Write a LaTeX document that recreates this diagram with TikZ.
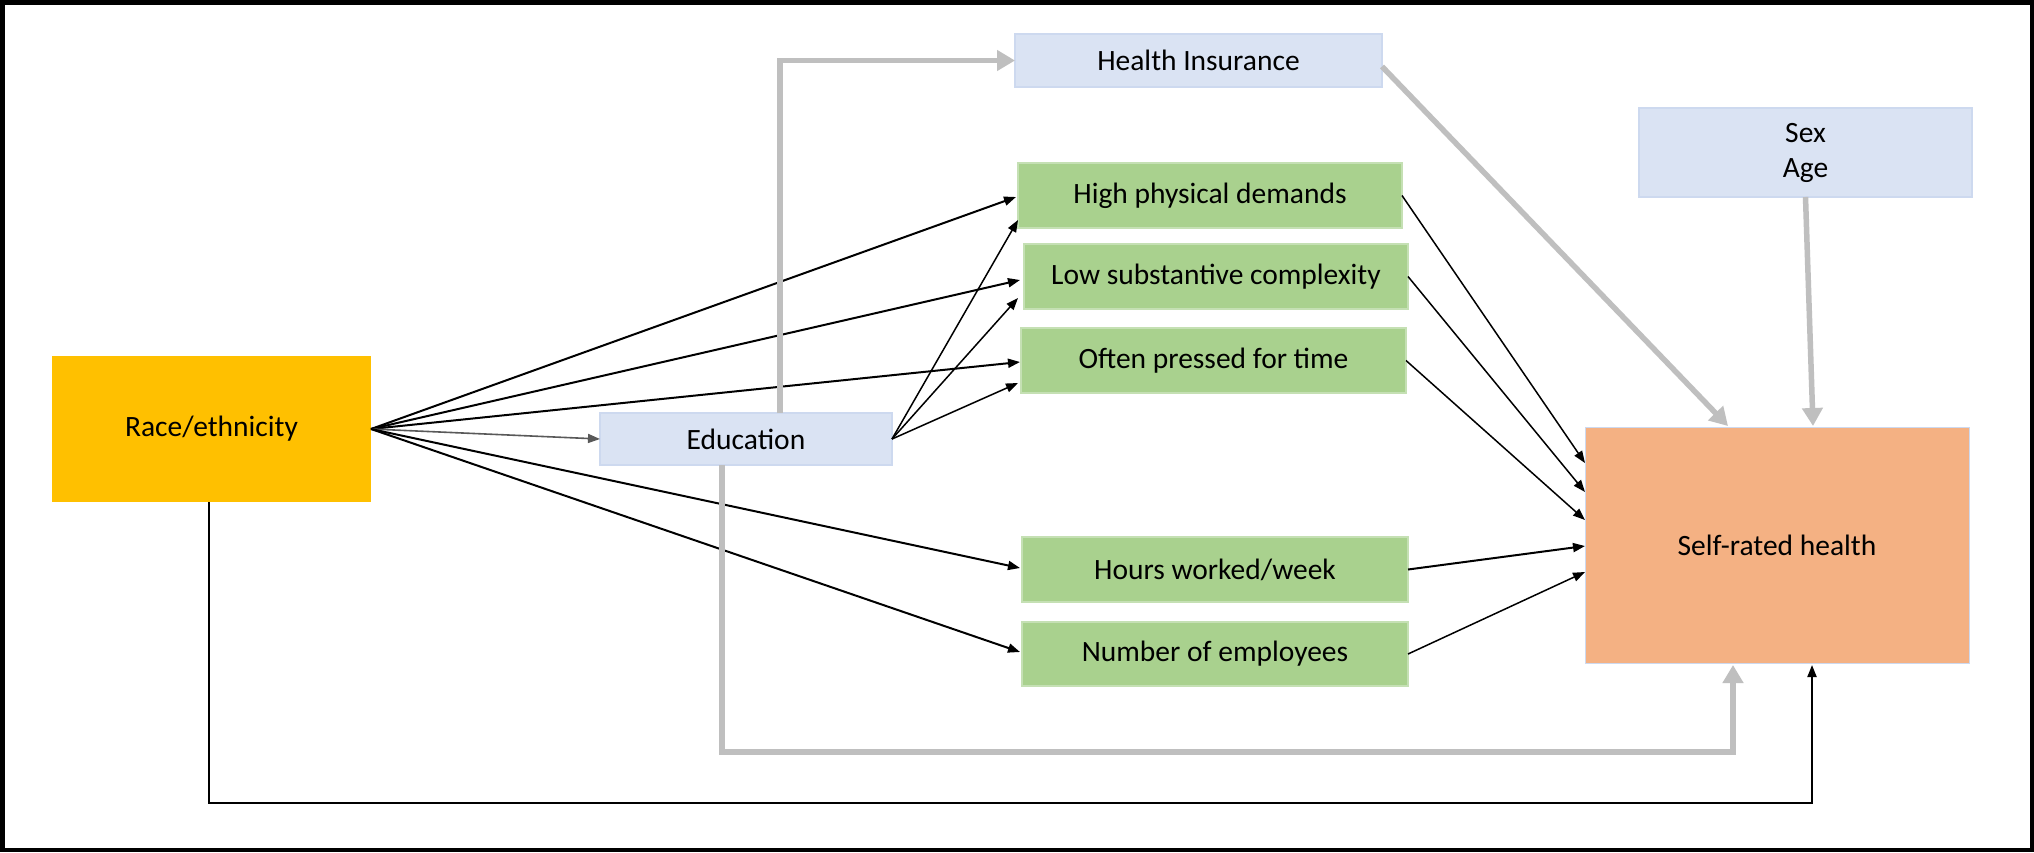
\documentclass[tikz,border=0pt]{standalone}
\usepackage{fontspec}
\setmainfont{Carlito}
\usetikzlibrary{arrows.meta,calc}
\definecolor{gold}{HTML}{FFC000}
\definecolor{lblue}{HTML}{DAE3F3}
\definecolor{lbluedge}{HTML}{CDD9EF}
\definecolor{lgreen}{HTML}{A9D18E}
\definecolor{lgreenedge}{HTML}{C5E0B4}
\definecolor{salmon}{HTML}{F4B183}
\definecolor{arrowgrey}{HTML}{BFBFBF}
\begin{document}
\begin{tikzpicture}[x=0.5pt,y=-0.5pt,
  every node/.style={font=\fontsize{14.75}{17.5}\selectfont, inner sep=0pt, outer sep=0pt, align=center},
  bluebox/.style={fill=lblue, draw=lbluedge, line width=0.6pt},
  greenbox/.style={fill=lgreen, draw=lgreenedge, line width=0.6pt},
  blk/.style={draw=black, line width=1pt, -{Triangle[length=6pt,width=4.5pt]}},
  blkthin/.style={draw=black, line width=0.75pt, -{Triangle[length=6pt,width=4.5pt]}},
  blkgrey/.style={draw=black!65, line width=0.8pt, -{Triangle[length=6pt,width=4.5pt]}},
  gry/.style={draw=arrowgrey, line width=2.75pt, -{Triangle[length=9pt,width=10pt]}}]
\useasboundingbox (0,0) rectangle (2034,852);
\fill[white] (0,0) rectangle (2034,852);
\draw[line width=2.25pt] (2.25,2.25) rectangle (2031.75,849.75);

\node[fill=gold, minimum width=159.5pt, minimum height=73pt] (race) at (211.5,429) {Race/ethnicity};
\node[bluebox, minimum width=146pt, minimum height=26pt] (edu) at (746,439) {Education};
\node[bluebox, minimum width=183.5pt, minimum height=26.5pt] (hi) at (1198.5,60.5) {Health Insurance};
\node[greenbox, minimum width=192pt, minimum height=32.5pt] (hpd) at (1210,195.5) {High physical demands};
\node[greenbox, minimum width=192pt, minimum height=32.5pt] (lsc) at (1216,276.5) {Low substantive complexity};
\node[greenbox, minimum width=192.5pt, minimum height=32.5pt] (opt) at (1213.5,360.5) {Often pressed for time};
\node[greenbox, minimum width=193pt, minimum height=32.5pt] (hrs) at (1215,569.5) {Hours worked/week};
\node[greenbox, minimum width=193pt, minimum height=32pt] (num) at (1215,654) {Number of employees};
\node[bluebox, minimum width=166.5pt, minimum height=44.5pt] (sex) at (1805.5,152.5) {Sex\\Age};
\node[fill=salmon, draw=lbluedge, line width=0.5pt, minimum width=192pt, minimum height=118pt] (srh) at (1777,545) {Self-rated health};

% Race/ethnicity arrows
\draw[blk] (race.east) -- ($(hpd.west)+(-2,1.5)$);
\draw[blk] (race.east) -- ($(lsc.west)+(-4,3.5)$);
\draw[blk] (race.east) -- ($(opt.west)+(-1,1.5)$);
\draw[blkgrey] (race.east) -- (edu.west);
\draw[blk] (race.east) -- ($(hrs.west)+(-2,-1.5)$);
\draw[blk] (race.east) -- ($(num.west)+(-2,-2)$);

% Education arrows
\draw[blkthin] (edu.east) -- ($(hpd.south west)+(0,-8)$);
\draw[blkthin] (edu.east) -- ($(lsc.south west)+(-6,-11)$);
\draw[blkthin] (edu.east) -- ($(opt.south west)+(-3,-10)$);

% Job characteristics to self-rated health
\draw[blkthin] (hpd.east) -- ($(srh.north west)+(0,36)$);
\draw[blkthin] (lsc.east) -- ($(srh.north west)+(0,65)$);
\draw[blkthin] (opt.east) -- ($(srh.north west)+(0,93)$);
\draw[blk] (hrs.east) -- ($(srh.north west)+(0,119)$);
\draw[blkthin] (num.east) -- ($(srh.north west)+(0,145)$);

% Grey paths
\draw[gry] ($(hi.east)+(0,6)$) -- ($(srh.north west)+(143,-1)$);
\draw[gry] (sex.south) -- ($(srh.north west)+(228,-1)$);
\coordinate (eN) at ($(edu.north west)+(180,0)$);
\draw[gry] (eN) |- (hi.west);
\coordinate (eS) at ($(edu.south west)+(122,0)$);
\coordinate (lowgrey) at (0,752);
\draw[gry] (eS) -- (eS |- lowgrey) -| ($(srh.south west)+(148,2)$);

% Race direct path
\coordinate (rS) at ($(race.south west)+(157,0)$);
\coordinate (lowblack) at (0,803);
\draw[blk] (rS) -- (rS |- lowblack) -| ($(srh.south west)+(227,2)$);
\end{tikzpicture}
\end{document}
